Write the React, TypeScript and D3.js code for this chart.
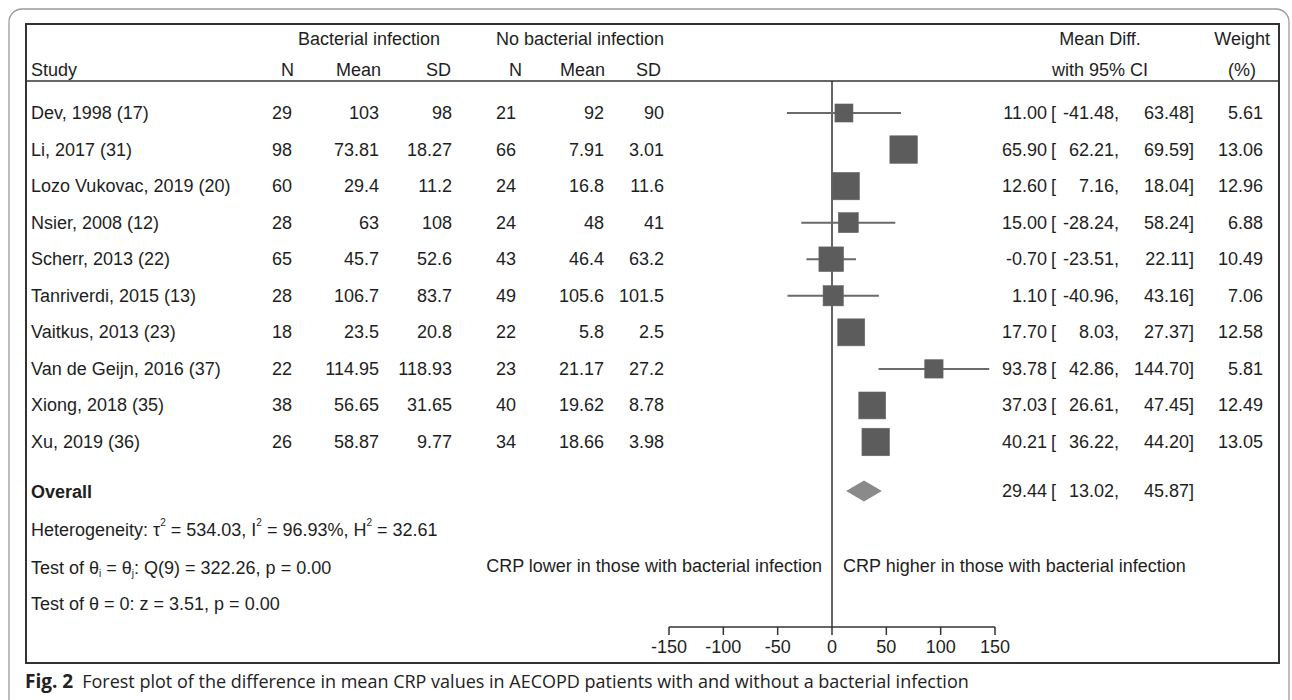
import React from "react";
import * as d3 from "d3";

// study rows
const studies = [
  "Dev, 1998 (17)",
  "Li, 2017 (31)",
  "Lozo Vukovac, 2019 (20)",
  "Nsier, 2008 (12)",
  "Scherr, 2013 (22)",
  "Tanriverdi, 2015 (13)",
  "Vaitkus, 2013 (23)",
  "Van de Geijn, 2016 (37)",
  "Xiong, 2018 (35)",
  "Xu, 2019 (36)",
];
const bactN = [29, 98, 60, 28, 65, 28, 18, 22, 38, 26];
const bactMean = [103, 73.81, 29.4, 63, 45.7, 106.7, 23.5, 114.95, 56.65, 58.87];
const bactSD = [98, 18.27, 11.2, 108, 52.6, 83.7, 20.8, 118.93, 31.65, 9.77];
const noN = [21, 66, 24, 24, 43, 49, 22, 23, 40, 34];
const noMean = [92, 7.91, 16.8, 48, 46.4, 105.6, 5.8, 21.17, 19.62, 18.66];
const noSD = [90, 3.01, 11.6, 41, 63.2, 101.5, 2.5, 27.2, 8.78, 3.98];
const meanDiff = [11.0, 65.9, 12.6, 15.0, -0.7, 1.1, 17.7, 93.78, 37.03, 40.21];
const ciLow = [-41.48, 62.21, 7.16, -28.24, -23.51, -40.96, 8.03, 42.86, 26.61, 36.22];
const ciHigh = [63.48, 69.59, 18.04, 58.24, 22.11, 43.16, 27.37, 144.7, 47.45, 44.2];
const weights = [5.61, 13.06, 12.96, 6.88, 10.49, 7.06, 12.58, 5.81, 12.49, 13.05];
const overall = { est: 29.44, lo: 13.02, hi: 45.87 };
const xTicks = [-150, -100, -50, 0, 50, 100, 150];

const FONT = "'Liberation Sans', Arial, sans-serif";
const TXT = "#1e1e1e";

// plain hyphen for negatives, like the stata output
const loc = d3.formatLocale({
  decimal: ".",
  thousands: ",",
  grouping: [3],
  currency: ["", ""],
  minus: "-",
});
const f2 = loc.format(".2f");

export default function App() {
  const x = d3.scaleLinear().domain([-150, 150]).range([669, 995]);
  const y = d3.scaleLinear().domain([0, 9]).range([113, 442]);
  const side = d3.scaleSqrt().domain([0, 13.06]).range([0, 27.5]);

  const yOverall = 491;
  const axisY = 627;

  const cols: { vals: number[]; right: number }[] = [
    { vals: bactN, right: 292 },
    { vals: bactMean, right: 379 },
    { vals: bactSD, right: 452 },
    { vals: noN, right: 516 },
    { vals: noMean, right: 604 },
    { vals: noSD, right: 664 },
  ];

  const diamond =
    d3.line()([
      [x(overall.lo), yOverall],
      [x(overall.est), yOverall - 10.5],
      [x(overall.hi), yOverall],
      [x(overall.est), yOverall + 10.5],
    ]) + "Z";

  const t = { fontFamily: FONT, fontSize: 18, fill: TXT };

  const ciText = (yy: number, est: number, lo: number, hi: number) => (
    <>
      <text x={1047} y={yy} textAnchor="end">{f2(est)}</text>
      <text x={1051} y={yy}>[</text>
      <text x={1119} y={yy} textAnchor="end">{f2(lo) + ","}</text>
      <text x={1194} y={yy} textAnchor="end">{f2(hi) + "]"}</text>
    </>
  );

  return (
    <svg
      width={1292}
      height={700}
      style={{ position: "absolute", left: 0, top: 0, background: "#fff" }}
    >
      {/* outer frame */}
      <rect x={9} y={9} width={1280} height={720} rx={13} fill="none" stroke="#9a9a9a" strokeWidth={1.3} />
      {/* inner box */}
      <rect x={26} y={24} width={1253} height={639} fill="#fff" stroke="#333" strokeWidth={2} />
      <line x1={26} x2={1279} y1={81} y2={81} stroke="#333" strokeWidth={1.5} />

      <g {...t} dominantBaseline="central">
        {/* header */}
        <text x={369} y={39} textAnchor="middle">Bacterial infection</text>
        <text x={580} y={39} textAnchor="middle">No bacterial infection</text>
        <text x={31} y={70}>Study</text>
        <text x={294} y={70} textAnchor="end">N</text>
        <text x={381} y={70} textAnchor="end">Mean</text>
        <text x={451} y={70} textAnchor="end">SD</text>
        <text x={522} y={70} textAnchor="end">N</text>
        <text x={605} y={70} textAnchor="end">Mean</text>
        <text x={661} y={70} textAnchor="end">SD</text>
        <text x={1100} y={39} textAnchor="middle">Mean Diff.</text>
        <text x={1100} y={70} textAnchor="middle">with 95% CI</text>
        <text x={1270} y={39} textAnchor="end">Weight</text>
        <text x={1242} y={70} textAnchor="middle">(%)</text>

        {/* study rows */}
        {studies.map((s, i) => (
          <g key={s}>
            <text x={31} y={y(i)}>{s}</text>
            {cols.map((c, j) => (
              <text key={j} x={c.right} y={y(i)} textAnchor="end">{String(c.vals[i])}</text>
            ))}
            {ciText(y(i), meanDiff[i], ciLow[i], ciHigh[i])}
            <text x={1263} y={y(i)} textAnchor="end">{f2(weights[i])}</text>
          </g>
        ))}

        {/* overall */}
        <text x={31} y={yOverall + 1} fontWeight="bold">Overall</text>
        {ciText(yOverall, overall.est, overall.lo, overall.hi)}

        <text x={31} y={530}>
          Heterogeneity: τ<tspan fontSize={10} dy={-8}>2</tspan>
          <tspan dy={8}> = 534.03, I</tspan>
          <tspan fontSize={10} dy={-8}>2</tspan>
          <tspan dy={8}> = 96.93%, H</tspan>
          <tspan fontSize={10} dy={-8}>2</tspan>
          <tspan dy={8}> = 32.61</tspan>
        </text>
        <text x={31} y={568}>
          Test of θ<tspan fontSize={10} dy={5}>i</tspan>
          <tspan dy={-5}> = θ</tspan>
          <tspan fontSize={10} dy={5}>j</tspan>
          <tspan dy={-5}>: Q(9) = 322.26, p = 0.00</tspan>
        </text>
        <text x={31} y={604}>Test of θ = 0: z = 3.51, p = 0.00</text>

        <text x={x(0) - 10} y={566} textAnchor="end">CRP lower in those with bacterial infection</text>
        <text x={x(0) + 11} y={566}>CRP higher in those with bacterial infection</text>
      </g>

      {/* zero line */}
      <line x1={x(0)} x2={x(0)} y1={81} y2={axisY} stroke="#333" strokeWidth={1.5} />

      {/* CIs and squares */}
      {studies.map((s, i) => (
        <line key={"ci" + s} x1={x(ciLow[i])} x2={x(ciHigh[i])} y1={y(i)} y2={y(i)} stroke="#6a6a6a" strokeWidth={2} />
      ))}
      {studies.map((s, i) => {
        const w = side(weights[i]);
        return (
          <rect key={"sq" + s} x={x(meanDiff[i]) - w / 2} y={y(i) - w / 2} width={w} height={w} fill="#5c5c5c" stroke="#666" strokeWidth={0.6} />
        );
      })}
      <path d={diamond} fill="#8a8a8a" />

      {/* axis */}
      <line x1={x(-150)} x2={x(150)} y1={axisY} y2={axisY} stroke="#333" strokeWidth={1.5} />
      {xTicks.map((v) => (
        <g key={v}>
          <line x1={x(v)} x2={x(v)} y1={axisY} y2={axisY + 8} stroke="#333" strokeWidth={1.5} />
          <text x={x(v)} y={647} textAnchor="middle" dominantBaseline="central" fontFamily={FONT} fontSize={18} fill={TXT}>
            {v}
          </text>
        </g>
      ))}

      {/* caption */}
      <text x={25} y={681} dominantBaseline="central" fontFamily="'Open Sans', 'Noto Sans', sans-serif" fontSize={18} fill="#222">
        <tspan fontWeight="bold" fontSize={19}>Fig. 2</tspan>
        <tspan dx={9}>Forest plot of the difference in mean CRP values in AECOPD patients with and without a bacterial infection</tspan>
      </text>
    </svg>
  );
}
